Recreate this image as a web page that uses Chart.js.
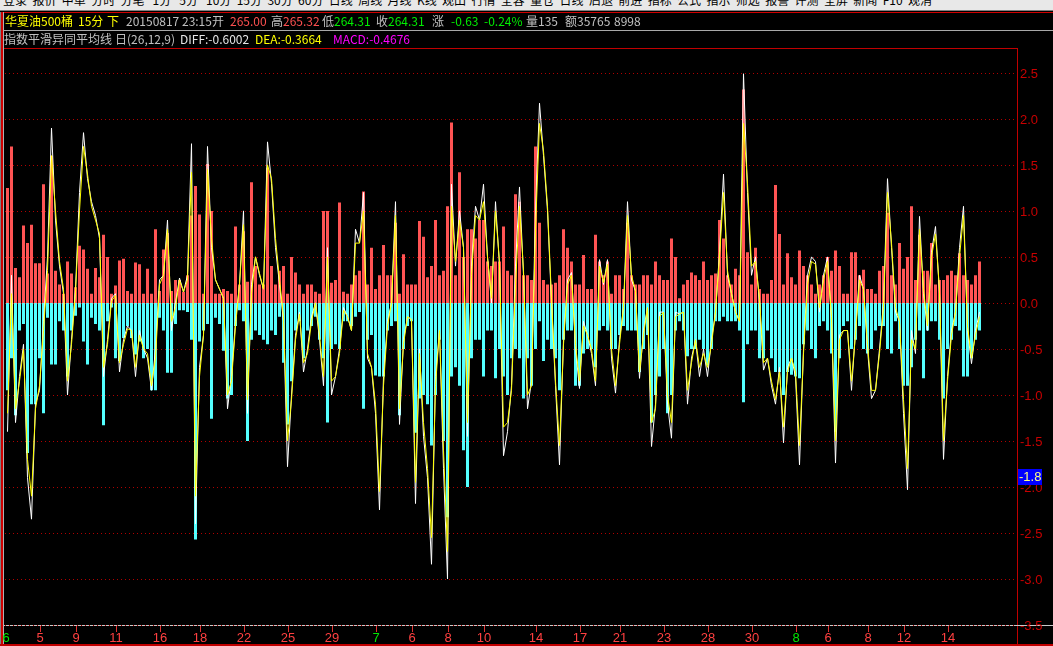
<!DOCTYPE html>
<html><head><meta charset="utf-8">
<script src="https://cdn.jsdelivr.net/npm/chart.js@4.4.1/dist/chart.umd.min.js"></script>
<style>
html,body{margin:0;padding:0;background:#000;width:1053px;height:646px;overflow:hidden;}
#menu{position:absolute;left:0;top:0;width:1053px;height:10px;background:#e8e8e8;overflow:hidden;}
#menu span{position:absolute;top:-7px;left:3px;font:12px "Noto Sans CJK SC";line-height:14px;color:#000;white-space:pre;}
.t{position:absolute;font:12px "Noto Sans CJK SC",sans-serif;white-space:nowrap;line-height:14px;}
.ln{position:absolute;}
#c{position:absolute;left:0;top:0;}
</style></head>
<body>
<div id="menu"><span>登录  报价  中单  分时  分笔   1分   5分   10分  15分  30分  60分  日线  周线  月线  K线  观田  行情  全容  量仓  日线  后退  前进  指标  公式  指示  筛选  报警  评测  全屏  新闻  F10  观消</span></div>
<div class="ln" style="left:0;top:10px;width:1053px;height:1px;background:#808080"></div>
<div class="ln" style="left:0;top:12px;width:1053px;height:1px;background:#d00000"></div>
<div class="ln" style="left:0;top:12px;width:1px;height:634px;background:#808080"></div>
<div class="ln" style="left:1px;top:12px;width:2px;height:634px;background:#d00000"></div>
<div class="ln" style="left:3px;top:12px;width:1px;height:634px;background:#b0b0b0"></div>
<div class="ln" style="left:4px;top:30px;width:1049px;height:1px;background:#a8a8a8"></div>
<div class="ln" style="left:4px;top:48px;width:1014px;height:1px;background:#c00000"></div>
<div class="ln" style="left:1017px;top:48px;width:1px;height:598px;background:#c00000"></div>
<div class="ln" style="left:4px;top:625px;width:1049px;height:1px;background:#c8c8c8"></div>
<div class="ln" style="left:0;top:644px;width:1053px;height:2px;background:#c00000"></div>

<canvas id="c" width="1053" height="646"></canvas>

<div class="t" style="left:5px;top:14px;color:#ffff00">华夏油500桶</div>
<div class="t" style="left:78px;top:14px;color:#ffff00">15分</div>
<div class="t" style="left:107px;top:14px;color:#ffff00">下</div>
<div class="t" style="left:126px;top:14px;color:#c0c0c0">20150817 23:15开</div>
<div class="t" style="left:230px;top:14px;color:#ff5050">265.00</div>
<div class="t" style="left:271px;top:14px;color:#c0c0c0">高</div>
<div class="t" style="left:283px;top:14px;color:#ff5050">265.32</div>
<div class="t" style="left:322px;top:14px;color:#c0c0c0">低</div>
<div class="t" style="left:334px;top:14px;color:#00ee00">264.31</div>
<div class="t" style="left:376px;top:14px;color:#c0c0c0">收</div>
<div class="t" style="left:388px;top:14px;color:#00ee00">264.31</div>
<div class="t" style="left:432px;top:14px;color:#c0c0c0">涨</div>
<div class="t" style="left:451px;top:14px;color:#00ee00">-0.63</div>
<div class="t" style="left:484px;top:14px;color:#00ee00">-0.24%</div>
<div class="t" style="left:526px;top:14px;color:#c0c0c0">量135</div>
<div class="t" style="left:565px;top:14px;color:#c0c0c0">额35765</div>
<div class="t" style="left:614px;top:14px;color:#c0c0c0">8998</div>

<div class="t" style="left:4px;top:32px;color:#c0c0c0">指数平滑异同平均线</div>
<div class="t" style="left:115px;top:32px;color:#c0c0c0">日(26,12,9)</div>
<div class="t" style="left:180px;top:32px;color:#e6e6e6">DIFF:-0.6002</div>
<div class="t" style="left:255px;top:32px;color:#ffff00">DEA:-0.3664</div>
<div class="t" style="left:333px;top:32px;color:#ff00ff">MACD:-0.4676</div>

<script>
// MACD histogram, positive part (red) per bar slot
const macdUp = [
1.25,1.7,0.38,0.28,0.84,0.65,0.85,0.43,0.43,1.29,
0.32,1.6,0.35,0.2,0.1,0.45,0.32,0.17,0.62,0.58,
0.37,0.1,0.38,0.28,0.74,0.5,0.1,0.19,0.46,0.48,
0.13,0.1,0.44,0.42,0.1,0.37,0.1,0.8,0.13,0.58,
0.76,0.13,0.25,0.25,0.12,0.3,0.95,1.27,0.96,0.1,
1.51,1.0,0.1,0.1,0.15,0.13,0.1,0.83,0.2,0.78,
0.23,1.31,0.4,0.2,0.2,1.47,0.4,0.2,0.35,0.4,
0.1,0.5,0.33,0.2,0.1,0.2,0.2,0.12,0.1,1.0,
1.0,0.22,0.25,1.09,0.12,0.1,0.2,0.3,0.35,1.21,
0.2,0.6,0.15,0.3,0.63,0.3,0.3,0.87,0.1,0.53,
0.2,0.2,0.2,0.89,0.72,0.28,0.4,0.9,0.3,0.35,
1.05,1.96,0.3,1.42,0.5,0.8,0.8,0.7,0.9,0.9,
0.45,0.4,0.45,0.45,0.83,0.35,0.3,1.18,1.1,0.3,
0.3,0.25,1.7,0.87,0.25,0.2,0.2,0.22,0.3,0.8,
0.6,0.45,0.2,0.2,0.52,0.15,0.15,0.74,0.45,0.3,
0.45,0.1,0.3,0.3,0.15,0.87,0.3,0.2,0.2,0.3,
0.3,0.2,0.45,0.3,0.25,0.25,0.7,0.5,0.05,0.2,
0.25,0.33,0.3,0.25,0.45,0.25,0.3,0.32,0.9,0.7,
0.3,0.2,0.37,0.3,2.32,0.55,0.2,0.6,0.15,0.1,
0.1,0.25,1.28,0.75,0.2,0.54,0.28,0.2,0.57,0.4,
0.3,0.2,0.1,0.2,0.3,0.5,0.35,0.57,0.4,0.1,
0.1,0.55,0.55,0.3,0.36,0.15,0.15,0.1,0.35,0.4,
0.98,0.3,0.2,0.65,0.37,0.5,1.05,0.25,0.74,0.35,
0.35,0.65,0.2,0.25,0.25,0.3,0.35,0.3,0.54,0.3,
0.25,0.2,0.3,0.45];

// MACD histogram, negative part (cyan)
const macdDown = [
-0.95,-0.6,-1.22,-0.3,-0.23,-1.63,-1.1,-1.1,-0.6,-1.2,
-0.16,-0.67,-0.67,-0.2,-0.3,-0.8,-0.3,-0.14,-0.05,-0.42,
-0.67,-0.16,-0.23,-0.3,-1.33,-0.2,-0.05,-0.6,-0.63,-0.38,
-0.25,-0.38,-0.56,-0.42,-0.6,-0.5,-0.95,-0.95,-0.16,-0.3,
-0.76,-0.76,-0.23,-0.08,-0.08,-0.1,-0.4,-2.57,-0.42,-0.3,
-0.23,-1.26,-0.16,-0.23,-0.52,-1.04,-1.0,-0.25,-0.08,-0.2,
-1.5,-0.4,-0.3,-0.35,-0.4,-0.45,-0.3,-0.35,-0.15,-0.65,
-1.32,-0.85,-0.3,-0.2,-0.6,-0.3,-0.25,-0.15,-0.4,-0.6,
-1.3,-0.5,-0.45,-0.5,-0.2,-0.2,-0.25,-0.15,-0.1,-1.15,
-0.4,-0.35,-0.79,-0.8,-0.8,-0.3,-0.25,-0.2,-1.22,-0.5,
-0.25,-0.2,-1.41,-1.04,-1.0,-1.1,-1.55,-1.0,-0.4,-1.5,
-2.33,-0.8,-0.7,-0.9,-1.6,-2.0,-0.6,-0.4,-0.4,-0.8,
-0.3,-0.3,-0.82,-0.5,-0.8,-1.0,-0.6,-0.5,-0.6,-1.04,
-0.6,-0.9,-0.5,-0.2,-0.63,-0.4,-0.5,-0.6,-0.95,-0.4,
-0.3,-0.3,-0.9,-0.9,-0.55,-0.5,-0.5,-0.7,-0.3,-0.25,
-0.3,-0.5,-0.5,-0.35,-0.25,-0.3,-0.3,-0.3,-0.75,-0.5,
-0.35,-1.3,-1.0,-0.8,-0.5,-1.2,-1.0,-0.3,-0.2,-0.3,
-0.58,-0.5,-0.5,-0.4,-0.5,-0.68,-0.5,-0.2,-0.2,-0.15,
-0.2,-0.2,-0.2,-0.3,-1.08,-0.45,-0.3,-0.3,-0.6,-0.6,
-0.3,-0.6,-0.75,-0.75,-1.0,-0.75,-0.78,-0.8,-0.82,-0.45,
-0.3,-0.5,-0.6,-0.25,-0.2,-0.3,-0.55,-1.4,-0.6,-0.25,
-0.2,-0.5,-0.4,-0.25,-0.5,-0.55,-0.5,-0.3,-0.25,-0.25,
-0.5,-0.55,-0.2,-0.5,-0.9,-0.9,-0.7,-0.4,-0.3,-0.82,
-0.3,-0.2,-0.2,-0.4,-1.04,-0.5,-0.4,-0.25,-0.3,-0.8,
-0.8,-0.6,-0.4,-0.3];

// DIFF line (white)
const diff = [
-1.4,0.3,-1.3,-0.8,-0.45,-1.9,-2.35,-1.1,-0.95,-0.2,
0.5,1.9,0.9,0.4,0.1,-1.0,-0.4,0.15,1.2,1.85,
1.35,1.1,0.95,0.7,-0.8,-0.4,0.05,0.1,-0.75,-0.4,
-0.25,-0.3,-0.8,-0.3,-0.5,-0.6,-0.95,-0.5,0.25,0.3,
0.9,-0.3,0.0,0.27,0.12,0.3,1.73,-2.4,-0.7,-0.35,
1.7,0.6,0.25,0.15,0.05,-1.15,-0.8,-0.2,0.2,1.0,
-1.2,0.2,0.5,0.3,0.15,1.75,1.3,0.6,0.2,-0.2,
-1.78,-1.0,-0.35,-0.1,-0.75,-0.5,-0.15,0.0,-0.4,-0.9,
0.6,-1.0,-0.8,-0.5,-0.05,-0.15,-0.3,0.8,0.65,1.2,
-0.6,-0.7,-1.2,-2.25,-0.8,-0.2,0.0,1.1,-1.32,-0.4,
-0.15,-0.18,-2.18,-0.5,-1.45,-1.9,-2.84,-0.8,-0.3,-1.8,
-3.0,1.29,0.4,1.0,0.6,-1.45,0.4,1.05,0.9,1.29,
0.5,0.0,1.1,0.4,-1.66,-1.4,-0.9,0.4,1.26,0.3,
-1.15,-0.85,1.0,2.17,1.6,1.0,0.0,-0.9,-1.76,-0.4,
0.25,0.33,-0.5,-0.93,-0.2,-0.35,-0.55,-0.9,0.47,0.2,
0.47,-0.6,-0.98,-0.4,-0.05,1.1,0.25,0.13,-0.82,-0.3,
-0.05,-1.56,-1.1,-0.1,-0.1,-1.1,-1.47,-0.1,-0.12,-0.1,
-1.1,-0.6,-0.4,-0.8,-0.5,-0.8,-0.4,-0.1,0.55,1.4,
0.3,0.1,-0.1,-0.2,2.49,1.2,0.3,0.5,0.0,-0.73,
-0.6,-0.9,-1.1,-0.7,-1.52,-0.7,-0.6,-0.8,-1.76,-0.5,
0.3,0.5,0.45,-0.1,0.3,0.5,-0.2,-1.74,-0.35,-0.3,
-0.3,-0.95,-0.3,0.3,0.15,-0.5,-1.04,-0.95,-0.5,0.0,
1.35,0.6,-0.1,-0.2,-1.2,-2.03,-0.3,-0.55,0.94,0.1,
-0.3,0.55,0.83,0.1,-1.7,-0.8,-0.3,-0.1,0.6,1.05,
-0.3,-0.66,-0.3,-0.1];

// DEA line (yellow)
const dea = [
-1.2,0.1,-1.15,-0.85,-0.5,-1.7,-2.1,-1.15,-0.9,-0.3,
0.35,1.6,1.0,0.45,0.15,-0.85,-0.45,0.12,1.0,1.7,
1.4,1.05,0.9,0.75,-0.7,-0.45,0.02,0.08,-0.65,-0.45,
-0.28,-0.3,-0.7,-0.35,-0.5,-0.55,-0.9,-0.6,0.2,0.3,
0.8,-0.2,-0.05,0.25,0.12,0.25,1.42,-2.1,-0.8,-0.35,
1.45,0.7,0.25,0.15,0.05,-1.0,-0.85,-0.25,0.2,0.85,
-1.05,0.1,0.5,0.32,0.15,1.5,1.35,0.7,0.25,-0.15,
-1.5,-1.05,-0.4,-0.12,-0.65,-0.55,-0.2,0.0,-0.35,-0.8,
0.5,-0.85,-0.8,-0.55,-0.08,-0.15,-0.3,0.65,0.65,1.0,
-0.55,-0.7,-1.1,-2.05,-0.9,-0.25,0.0,0.95,-1.15,-0.45,
-0.15,-0.18,-1.95,-0.55,-1.3,-1.8,-2.55,-0.9,-0.3,-1.6,
-2.7,1.05,0.45,0.9,0.6,-1.3,0.3,0.95,0.9,1.1,
0.5,0.05,1.0,0.45,-1.35,-1.3,-0.95,0.2,1.05,0.35,
-1.0,-0.9,0.8,1.95,1.65,1.05,0.05,-0.85,-1.55,-0.45,
0.2,0.3,-0.45,-0.85,-0.25,-0.35,-0.5,-0.85,0.4,0.22,
0.42,-0.5,-0.9,-0.45,-0.05,0.95,0.3,0.13,-0.75,-0.35,
-0.05,-1.3,-1.15,-0.15,-0.1,-1.0,-1.3,-0.15,-0.12,-0.1,
-0.95,-0.65,-0.4,-0.7,-0.55,-0.7,-0.45,-0.1,0.5,1.2,
0.35,0.1,-0.1,-0.2,1.95,1.3,0.4,0.45,0.05,-0.65,
-0.6,-0.85,-1.05,-0.75,-1.35,-0.75,-0.6,-0.75,-1.55,-0.55,
0.2,0.45,0.42,-0.05,0.25,0.45,-0.15,-1.5,-0.4,-0.3,
-0.3,-0.85,-0.35,0.25,0.15,-0.45,-0.95,-0.95,-0.55,-0.05,
1.2,0.65,-0.05,-0.2,-1.05,-1.8,-0.4,-0.5,0.8,0.15,
-0.25,0.5,0.75,0.15,-1.5,-0.85,-0.35,-0.1,0.5,0.95,
-0.25,-0.6,-0.35,-0.15];

// x-axis: total slots (data + empty right margin), tick slot indices and labels
const totalSlots = 253;
const tickIndex  = [0,8,17,27,38,48,59,70,81,92,101,110,119,132,143,153,164,175,186,197,205,215,224,235];
const tickLabels = ['6','5','9','11','16','18','22','25','29','7','6','8','10','14','17','21','23','28','30','8','6','8','12','14'];
const tickGreen  = [true,false,false,false,false,false,false,false,false,true,false,false,false,false,false,false,false,false,false,true,false,false,false,false];
// y-axis ticks
const yTicks = [2.5,2.0,1.5,1.0,0.5,0.0,-0.5,-1.0,-1.5,-2.0,-2.5,-3.0,-3.5];
const cursorValue = -1.8;

const slots = [];
for (let i = 0; i < totalSlots; i++) slots.push(String(i));

const deco = {
  id: 'deco',
  beforeDatasetsDraw(chart) {
    const {ctx, chartArea: a, scales: {y}} = chart;
    ctx.save();
    ctx.strokeStyle = '#b00000';
    ctx.lineWidth = 1;
    ctx.setLineDash([1, 3]);
    yTicks.forEach(v => {
      const py = Math.round(y.getPixelForValue(v)) + 0.5;
      ctx.beginPath(); ctx.moveTo(5, py); ctx.lineTo(1017, py); ctx.stroke();
    });
    ctx.restore();
  },
  afterDraw(chart) {
    const {ctx, scales: {x, y}} = chart;
    const axisX = 1017;
    ctx.save();
    ctx.font = '13px "Liberation Sans", Arial, sans-serif';
    ctx.textBaseline = 'middle';
    ctx.textAlign = 'left';
    ctx.fillStyle = '#c80000';
    yTicks.forEach(v => {
      const py = Math.round(y.getPixelForValue(v));
      ctx.fillText(v.toFixed(1), axisX + 3, py + 1);
    });
    // x ticks
    ctx.textAlign = 'center';
    ctx.strokeStyle = '#e03030';
    ctx.lineWidth = 1;
    tickIndex.forEach((idx, k) => {
      const px = Math.round(x.getPixelForValue(idx));
      if (k > 0) {
        ctx.beginPath(); ctx.moveTo(px + 0.5, 626); ctx.lineTo(px + 0.5, 632); ctx.stroke();
      }
      ctx.fillStyle = tickGreen[k] ? '#00e600' : '#ff4040';
      ctx.fillText(tickLabels[k], k === 0 ? 6 : px, 638);
    });
    // cursor value box
    const cy = Math.round(y.getPixelForValue(cursorValue));
    ctx.fillStyle = '#0000ff';
    ctx.fillRect(axisX + 1, cy, 24, 16);
    ctx.fillStyle = '#ffff80';
    ctx.textAlign = 'left';
    ctx.fillText(cursorValue.toFixed(1), axisX + 2, cy + 8.5);
    ctx.restore();
  }
};

new Chart(document.getElementById('c'), {
  type: 'bar',
  data: {
    labels: slots,
    datasets: [
      {type: 'line', label: 'DEA', data: dea, borderColor: '#ffff00', borderWidth: 1, pointRadius: 0, tension: 0, order: 0},
      {type: 'line', label: 'DIFF', data: diff, borderColor: '#ffffff', borderWidth: 1, pointRadius: 0, tension: 0, order: 1},
      {label: 'MACD+', data: macdUp, backgroundColor: '#ff5454', borderWidth: 0, grouped: false, barPercentage: 0.75, categoryPercentage: 1, order: 2},
      {label: 'MACD-', data: macdDown, backgroundColor: '#54ffff', borderWidth: 0, grouped: false, barPercentage: 0.75, categoryPercentage: 1, order: 3}
    ]
  },
  options: {
    responsive: false,
    animation: false,
    events: [],
    layout: {padding: {left: 5.5, right: 35.5, top: 48, bottom: 21}},
    plugins: {legend: {display: false}, tooltip: {enabled: false}},
    scales: {
      x: {display: false, offset: true},
      y: {display: false, min: -3.5, max: 2.77}
    }
  },
  plugins: [deco]
});
</script>
</body></html>
